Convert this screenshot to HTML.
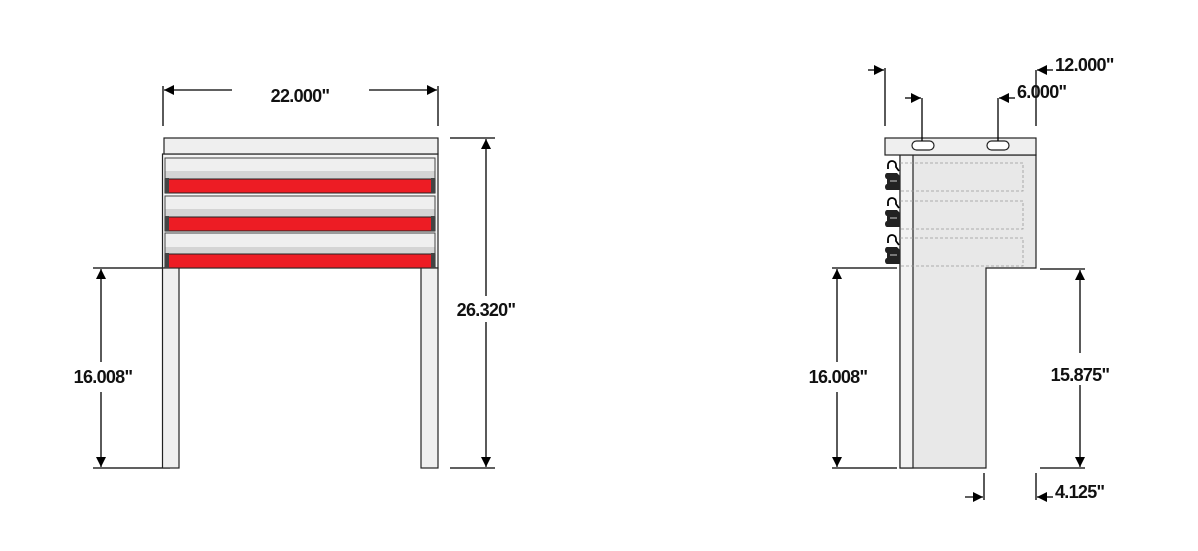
<!DOCTYPE html>
<html><head><style>html,body{margin:0;padding:0;background:#fff}svg{display:block}text{font-family:"Liberation Sans",Arial,sans-serif;font-weight:bold;font-size:18px;fill:#111;letter-spacing:-0.7px}</style></head>
<body>
<svg width="1198" height="551" viewBox="0 0 1198 551" xmlns="http://www.w3.org/2000/svg">
<defs>
<marker id="a" viewBox="0 0 10 10" refX="10" refY="5" markerWidth="16" markerHeight="10" markerUnits="userSpaceOnUse" orient="auto"><path d="M0,0L10,5L0,10z" fill="#000"/></marker>
</defs>
<g stroke="#000" stroke-width="1.3" fill="none">
<line x1="163" y1="86" x2="163" y2="126"/><line x1="438" y1="86" x2="438" y2="126"/>
<line x1="232" y1="90" x2="164" y2="90" marker-end="url(#a)"/><line x1="369" y1="90" x2="437" y2="90" marker-end="url(#a)"/>
<line x1="450" y1="138" x2="495" y2="138"/><line x1="450" y1="468" x2="495" y2="468"/>
<line x1="486" y1="296" x2="486" y2="139" marker-end="url(#a)"/><line x1="486" y1="322" x2="486" y2="467" marker-end="url(#a)"/>
<line x1="93" y1="268" x2="170" y2="268"/><line x1="93" y1="468" x2="170" y2="468"/>
<line x1="101" y1="362" x2="101" y2="269" marker-end="url(#a)"/><line x1="101" y1="392" x2="101" y2="467" marker-end="url(#a)"/>
</g>
<g stroke="#222" stroke-width="1.2">
<rect x="162.5" y="154" width="275.5" height="114" fill="#f4f4f4"/>
<rect x="164" y="138" width="274" height="16" fill="#efefef"/>
<rect x="162.5" y="268" width="16.5" height="200" fill="#efefef"/>
<rect x="421" y="268" width="17" height="200" fill="#efefef"/>
</g>
<g>
<rect x="165" y="158" width="270" height="21" fill="#efefef" stroke="#444" stroke-width="1"/><rect x="165.5" y="171" width="269" height="8" fill="#d4d4d4"/>
<rect x="165" y="179" width="270" height="14" fill="#ed1c24" stroke="#222" stroke-width="1"/><rect x="165" y="178" width="4" height="15" fill="#444"/><rect x="431" y="178" width="4" height="15" fill="#444"/>
<rect x="165" y="196" width="270" height="21" fill="#efefef" stroke="#444" stroke-width="1"/><rect x="165.5" y="209" width="269" height="8" fill="#d4d4d4"/>
<rect x="165" y="217" width="270" height="14" fill="#ed1c24" stroke="#222" stroke-width="1"/><rect x="165" y="216" width="4" height="15" fill="#444"/><rect x="431" y="216" width="4" height="15" fill="#444"/>
<rect x="165" y="233" width="270" height="21" fill="#efefef" stroke="#444" stroke-width="1"/><rect x="165.5" y="247" width="269" height="7" fill="#d4d4d4"/>
<rect x="165" y="254" width="270" height="14" fill="#ed1c24" stroke="#222" stroke-width="1"/><rect x="165" y="253" width="4" height="15" fill="#444"/><rect x="431" y="253" width="4" height="15" fill="#444"/>
</g>
<text x="300" y="102" text-anchor="middle">22.000"</text>
<text x="486" y="316" text-anchor="middle">26.320"</text>
<text x="103" y="383" text-anchor="middle">16.008"</text>

<g stroke="#222" stroke-width="1.2">
<path d="M900,155 H1036 V268 H986 V468 H900 Z" fill="#e8e8e8"/>
<rect x="900" y="155" width="13" height="313" fill="#f2f2f2"/>
<rect x="885" y="138" width="151" height="17" fill="#efefef"/>
<rect x="912" y="141" width="22" height="9" rx="4.5" fill="#fff"/>
<rect x="987" y="141" width="22" height="9" rx="4.5" fill="#fff"/>
</g>
<g stroke="#999" stroke-width="0.8" stroke-dasharray="3,2" fill="none">
<path d="M900,163 H1023 V191 H900"/><path d="M900,201 H1023 V229 H900"/><path d="M900,238 H1023 V266 H900"/>
</g>
<g>
<g id="hk"><path d="M888,169 v-4 a4,4 0 0 1 8,0 v2 l3,4" stroke="#000" stroke-width="1.8" fill="none"/><path d="M887,173 h10 l3,3 v14 h-13 a2,3 0 0 1 0,-6 v-5 a2,3 0 0 1 0,-6z" fill="#222"/><rect x="890" y="180" width="7" height="2" fill="#777"/></g>
<use href="#hk" y="37"/><use href="#hk" y="74"/>
</g>
<g stroke="#000" stroke-width="1.3" fill="none">
<line x1="885" y1="68" x2="885" y2="126"/><line x1="868" y1="70" x2="884" y2="70" marker-end="url(#a)"/>
<line x1="1036" y1="70" x2="1036" y2="126"/><line x1="1053" y1="70" x2="1037" y2="70" marker-end="url(#a)"/>
<line x1="922" y1="98" x2="922" y2="141"/><line x1="905" y1="98" x2="921" y2="98" marker-end="url(#a)"/>
<line x1="998" y1="98" x2="998" y2="141"/><line x1="1015" y1="98" x2="999" y2="98" marker-end="url(#a)"/>
<line x1="832" y1="268" x2="897" y2="268"/><line x1="832" y1="468" x2="897" y2="468"/>
<line x1="837" y1="362" x2="837" y2="269" marker-end="url(#a)"/><line x1="837" y1="392" x2="837" y2="467" marker-end="url(#a)"/>
<line x1="1040" y1="269" x2="1085" y2="269"/><line x1="1040" y1="468" x2="1085" y2="468"/>
<line x1="1080" y1="353" x2="1080" y2="270" marker-end="url(#a)"/><line x1="1080" y1="385" x2="1080" y2="467" marker-end="url(#a)"/>
<line x1="984" y1="473" x2="984" y2="500"/><line x1="965" y1="497" x2="983" y2="497" marker-end="url(#a)"/>
<line x1="1036" y1="473" x2="1036" y2="500"/><line x1="1053" y1="497" x2="1037" y2="497" marker-end="url(#a)"/>
</g>
<text x="1055" y="71">12.000"</text>
<text x="1017" y="98">6.000"</text>
<text x="838" y="383" text-anchor="middle">16.008"</text>
<text x="1080" y="381" text-anchor="middle">15.875"</text>
<text x="1055" y="498">4.125"</text>
</svg>
</body></html>
